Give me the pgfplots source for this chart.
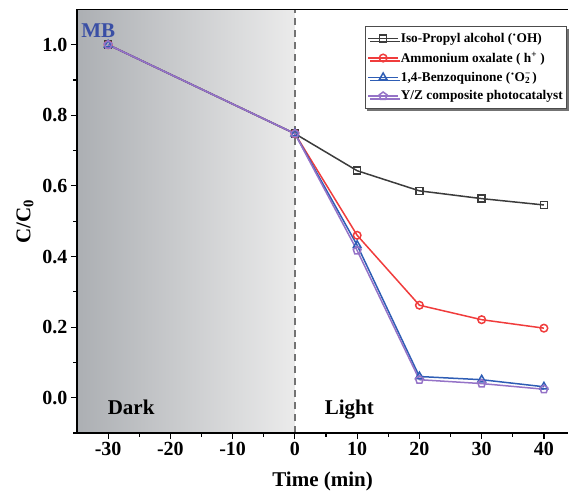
\documentclass[border=0pt]{standalone}
\usepackage{pgfplots}
\pgfplotsset{compat=1.18}
\usepackage{fontspec}
\setmainfont{Liberation Serif}
\usetikzlibrary{shadows}
\definecolor{cblack}{HTML}{3C3C3C}
\definecolor{cred}{HTML}{F03C3C}
\definecolor{cblue}{HTML}{2E5DB5}
\definecolor{cpurple}{HTML}{9573C7}
\definecolor{cmb}{HTML}{3A4FA5}
\definecolor{gleft}{HTML}{ACAFB3}
\definecolor{gright}{HTML}{EBEBEB}
\begin{document}
\begin{tikzpicture}[x=1pt,y=1pt]
\path (0,0) rectangle (570,496);
\begin{axis}[
  at={(77pt,63pt)}, anchor=south west,
  scale only axis, width=491.2pt, height=423.6pt,
  xmin=-35, xmax=43.9, ymin=-0.1, ymax=1.1,
  axis x line*=bottom, axis y line*=left,
  xtick={-30,-20,-10,0,10,20,30,40},
  minor xtick={-25,-15,-5,5,15,25,35},
  ytick={0,0.2,0.4,0.6,0.8,1.0},
  minor ytick={-0.1,0.1,0.3,0.5,0.7,0.9},
  tick align=outside,
  major tick length=6pt, minor tick length=3.5pt,
  axis line style={line width=1.6pt},
  every tick/.style={line width=1.2pt, black},
  axis on top,
  /pgf/number format/assume math mode=true,
  ticklabel style={font=\bfseries\fontsize{20}{20}\selectfont},
  yticklabel style={/pgf/number format/.cd, fixed, fixed zerofill, precision=1},
  xticklabel style={/pgf/number format/.cd, fixed, precision=0},
  xlabel={\bfseries Time (min)},
  ylabel={\bfseries C/C\textsubscript{0}},
  label style={font=\bfseries\fontsize{21}{21}\selectfont},
  xlabel style={yshift=-9pt},
  ylabel style={yshift=2pt},
  legend style={at={(0.5863,0.961)}, anchor=north west,
    font=\bfseries\fontsize{13.3}{14}\selectfont,
    draw=black!70, line width=0.8pt, fill=white,
    drop shadow={shadow xshift=2pt, shadow yshift=-3pt, opacity=1, fill=black!55},
    row sep=4pt, inner xsep=2pt, inner ysep=5pt, cells={anchor=west}},
  legend image code/.code={\draw[mark repeat=2,mark phase=2] plot coordinates {(0pt,0pt) (15pt,0pt) (30pt,0pt)};},
]
\fill[left color=gleft, right color=gright] (axis cs:-35,-0.1) rectangle (axis cs:0,1.1);
\draw[black!55, line width=1.5pt, dash pattern=on 7pt off 5pt] (axis cs:0,-0.1) -- (axis cs:0,1.1);
\draw[black, line width=1.6pt] (rel axis cs:0,1) -- (rel axis cs:1,1);

\addplot[cblack, line width=1.5pt, mark=square, mark size=3.5pt, mark options={fill=white, solid}]
  coordinates {(-30,1.0)(0,0.748)(10,0.643)(20,0.586)(30,0.564)(40,0.546)};
\addplot[cred, line width=1.5pt, mark=o, mark size=3.8pt, mark options={fill=white, solid}]
  coordinates {(-30,1.0)(0,0.748)(10,0.460)(20,0.262)(30,0.221)(40,0.197)};
\addplot[cblue, line width=1.5pt, mark=triangle, mark size=4.4pt, mark options={fill=white, solid}]
  coordinates {(-30,1.0)(0,0.748)(10,0.432)(20,0.060)(30,0.051)(40,0.031)};
\addplot[cpurple, line width=1.5pt, mark=pentagon, mark size=4.1pt, mark options={fill=white, solid}]
  coordinates {(-30,1.0)(0,0.748)(10,0.417)(20,0.051)(30,0.040)(40,0.024)};

\legend{Iso-Propyl alcohol (\raisebox{0.5ex}{·}OH),
  Ammonium oxalate ( h\textsuperscript{+} ),
  1{,}4-Benzoquinone (\raisebox{0.5ex}{·}O\rlap{\textsuperscript{−}}\textsubscript{2}\,),
  Y/Z composite photocatalyst}

\node[font=\bfseries\fontsize{21}{21}\selectfont, text=cmb] at (axis cs:-31.6,1.04) {MB};
\node[font=\bfseries\fontsize{21}{21}\selectfont, anchor=base] at (axis cs:-26.3,-0.049) {Dark};
\node[font=\bfseries\fontsize{21}{21}\selectfont, anchor=base] at (axis cs:8.75,-0.049) {Light};
\end{axis}
\end{tikzpicture}
\end{document}
